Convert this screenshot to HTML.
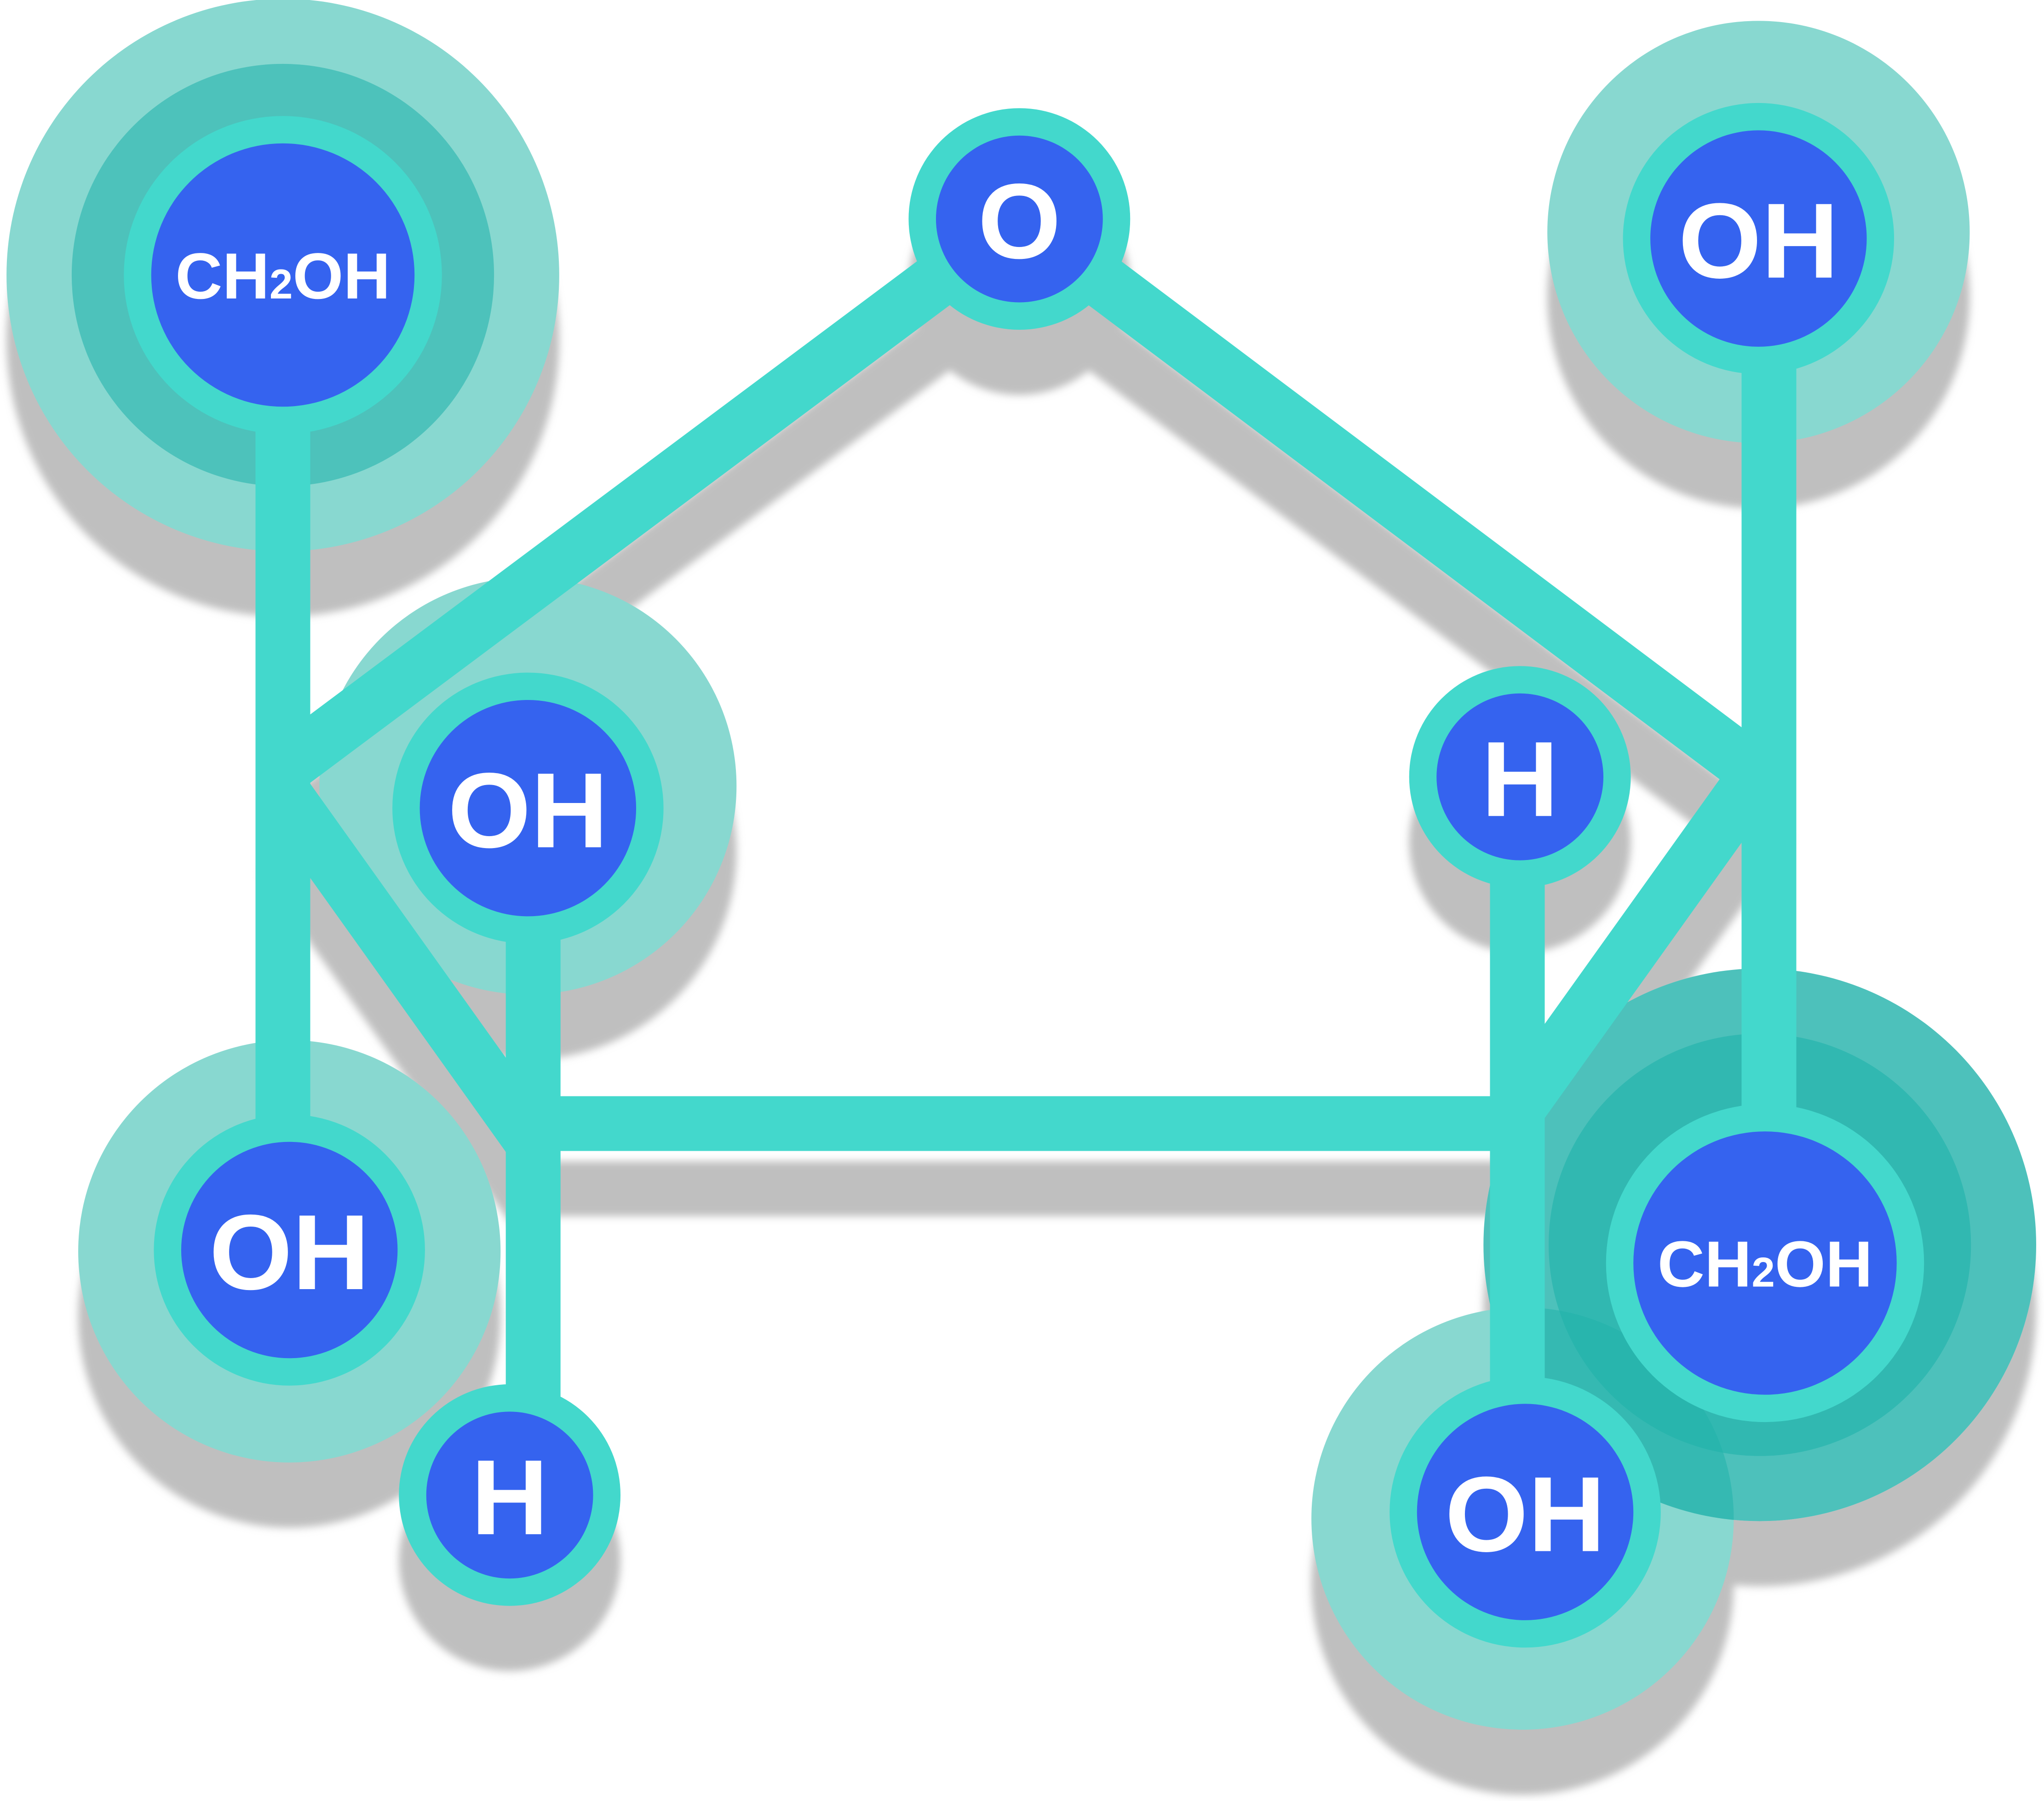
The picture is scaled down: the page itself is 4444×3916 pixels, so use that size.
<!DOCTYPE html>
<html><head><meta charset="utf-8"><style>
html,body{margin:0;padding:0;background:#fff;}
svg{display:block;}
text{font-family:"Liberation Sans","DejaVu Sans",sans-serif;font-weight:bold;fill:#fff;}
</style></head><body>
<svg width="4444" height="3916" viewBox="0 0 1568 1381.7" xmlns="http://www.w3.org/2000/svg">
<defs><filter id="blur" x="-10%" y="-10%" width="120%" height="120%"><feGaussianBlur stdDeviation="3"/></filter></defs>
<g transform="translate(0,50)" filter="url(#blur)" fill="#bfbfbf" stroke="#bfbfbf">
  <circle cx="217" cy="211" r="212" stroke="none"/>
  <circle cx="1349" cy="178" r="162" stroke="none"/>
  <circle cx="405" cy="603" r="160" stroke="none"/>
  <circle cx="222" cy="960" r="162" stroke="none"/>
  <circle cx="1350" cy="955" r="212" stroke="none"/>
  <circle cx="1168" cy="1165" r="162" stroke="none"/>
  <circle cx="782" cy="168" r="85" stroke="none"/>
  <circle cx="1166" cy="596" r="85" stroke="none"/>
  <circle cx="391" cy="1147" r="85" stroke="none"/>
  <g stroke-width="42" fill="none">
    <line x1="217" y1="590" x2="782" y2="168"/>
    <line x1="782" y1="168" x2="1357" y2="600"/>
    <line x1="217" y1="608" x2="409" y2="877"/>
    <line x1="409" y1="862" x2="1164" y2="862"/>
    <line x1="1164" y1="851" x2="1357" y2="581"/>
  </g>
</g>
<g>
  <circle cx="217" cy="211" r="212" fill="#88d8d0"/>
  <circle cx="217" cy="211" r="162" fill="#4dc2bb"/>
  <circle cx="1349" cy="178" r="162" fill="#88d8d0"/>
  <circle cx="405" cy="603" r="160" fill="#88d8d0"/>
  <circle cx="222" cy="960" r="162" fill="#88d8d0"/>
  <circle cx="1350" cy="955" r="212" fill="#ffffff"/>
  <circle cx="1168" cy="1165" r="162" fill="#88d8d0"/>
  <circle cx="1350" cy="955" r="212" fill="#20b2aa" opacity="0.8"/>
  <circle cx="1350" cy="955" r="162" fill="#20b2aa" opacity="0.6"/>
</g>
<g stroke="#43d8cc" stroke-width="42" fill="none">
  <line x1="217" y1="590" x2="782" y2="168"/>
  <line x1="782" y1="168" x2="1357" y2="600"/>
  <line x1="217" y1="608" x2="409" y2="877"/>
  <line x1="409" y1="862" x2="1164" y2="862"/>
  <line x1="1164" y1="851" x2="1357" y2="581"/>
  <line x1="217" y1="211" x2="217" y2="959"/>
  <line x1="409" y1="620" x2="409" y2="1147"/>
  <line x1="1164" y1="596" x2="1164" y2="1160"/>
  <line x1="1357" y1="183" x2="1357" y2="969"/>
</g>
<g>
  <g><circle cx="217" cy="211" r="122" fill="#43d8cc"/><circle cx="217" cy="211" r="101" fill="#3563ef"/><text x="217" y="229" font-size="50" text-anchor="middle">CH<tspan font-size="32">2</tspan>OH</text></g>
  <g><circle cx="782" cy="168" r="85" fill="#43d8cc"/><circle cx="782" cy="168" r="64" fill="#3563ef"/><text x="782" y="198" font-size="82" text-anchor="middle">O</text></g>
  <g><circle cx="1349" cy="183" r="104" fill="#43d8cc"/><circle cx="1349" cy="183" r="83" fill="#3563ef"/><text x="1349" y="213" font-size="82" text-anchor="middle">OH</text></g>
  <g><circle cx="405" cy="620" r="104" fill="#43d8cc"/><circle cx="405" cy="620" r="83" fill="#3563ef"/><text x="405" y="650" font-size="82" text-anchor="middle">OH</text></g>
  <g><circle cx="1166" cy="596" r="85" fill="#43d8cc"/><circle cx="1166" cy="596" r="64" fill="#3563ef"/><text x="1166" y="626" font-size="82" text-anchor="middle">H</text></g>
  <g><circle cx="222" cy="959" r="104" fill="#43d8cc"/><circle cx="222" cy="959" r="83" fill="#3563ef"/><text x="222" y="989" font-size="82" text-anchor="middle">OH</text></g>
  <g><circle cx="391" cy="1147" r="85" fill="#43d8cc"/><circle cx="391" cy="1147" r="64" fill="#3563ef"/><text x="391" y="1177" font-size="82" text-anchor="middle">H</text></g>
  <g><circle cx="1354" cy="969" r="122" fill="#43d8cc"/><circle cx="1354" cy="969" r="101" fill="#3563ef"/><text x="1354" y="987" font-size="50" text-anchor="middle">CH<tspan font-size="32">2</tspan>OH</text></g>
  <g><circle cx="1170" cy="1160" r="104" fill="#43d8cc"/><circle cx="1170" cy="1160" r="83" fill="#3563ef"/><text x="1170" y="1190" font-size="82" text-anchor="middle">OH</text></g>
</g>
</svg>
</body></html>
